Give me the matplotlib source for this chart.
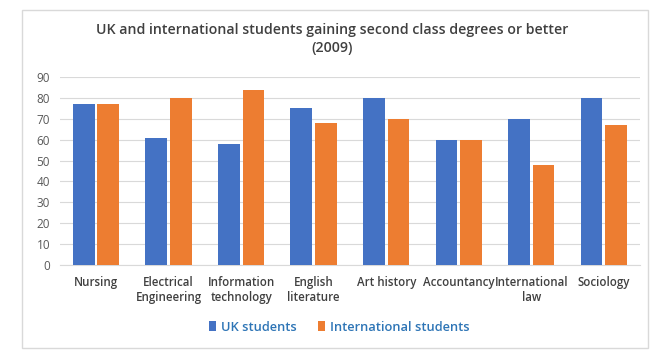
import matplotlib.pyplot as plt
import numpy as np
from matplotlib.patches import Rectangle

categories = ["Nursing", "Electrical\nEngineering", "Information\ntechnology", "English\nliterature",
              "Art history", "Accountancy", "International\nlaw", "Sociology"]
uk_students = [77, 61, 58, 75, 80, 60, 70, 80]
intl_students = [77, 80, 84, 68, 70, 60, 48, 67]

plt.rcParams['font.family'] = ['Open Sans', 'DejaVu Sans']

fig = plt.figure(figsize=(6.64, 3.57), dpi=100)
fig.patches.append(Rectangle((22 / 664, 1 - 348 / 357), 626 / 664, 338 / 357,
                             transform=fig.transFigure, fill=False, edgecolor='#d9d9d9', lw=1))
ax = fig.add_axes([0.090, 0.258, 0.874, 0.526])

x = np.arange(len(categories))
w = 0.3
ax.bar(x - 0.17, uk_students, w, color='#4472C4', label='UK students', zorder=3)
ax.bar(x + 0.17, intl_students, w, color='#ED7D31', label='International students', zorder=3)

ax.set_ylim(0, 90)
ax.set_xlim(-0.5, len(categories) - 0.5)
ax.set_yticks(range(0, 91, 10))
ax.yaxis.grid(True, color='#d9d9d9', lw=0.8, zorder=0)
ax.tick_params(axis='y', length=0, labelsize=8.5, labelcolor='#595959', pad=7)
ax.tick_params(axis='x', length=0, labelsize=8.3, labelcolor='#404040', pad=8)
ax.set_xticks(x)
ax.set_xticklabels(categories, fontweight='semibold', linespacing=1.2)
for s in ['top', 'right', 'left']:
    ax.spines[s].set_visible(False)
ax.spines['bottom'].set_color('#d9d9d9')

fig.text(0.5, 0.891, "UK and international students gaining second class degrees or better\n(2009)",
         ha='center', va='center', fontsize=10.2, fontweight='semibold', color='#404040', linespacing=1.4)

leg = fig.legend(loc='center', bbox_to_anchor=(0.511, 0.084), ncol=2, frameon=False,
                 fontsize=9.3, handlelength=0.55, handleheight=0.8, columnspacing=1.6, handletextpad=0.4)
for t in leg.get_texts():
    t.set_color('#2e75b6')
    t.set_fontweight('semibold')

fig.savefig('out.png', dpi=100)
